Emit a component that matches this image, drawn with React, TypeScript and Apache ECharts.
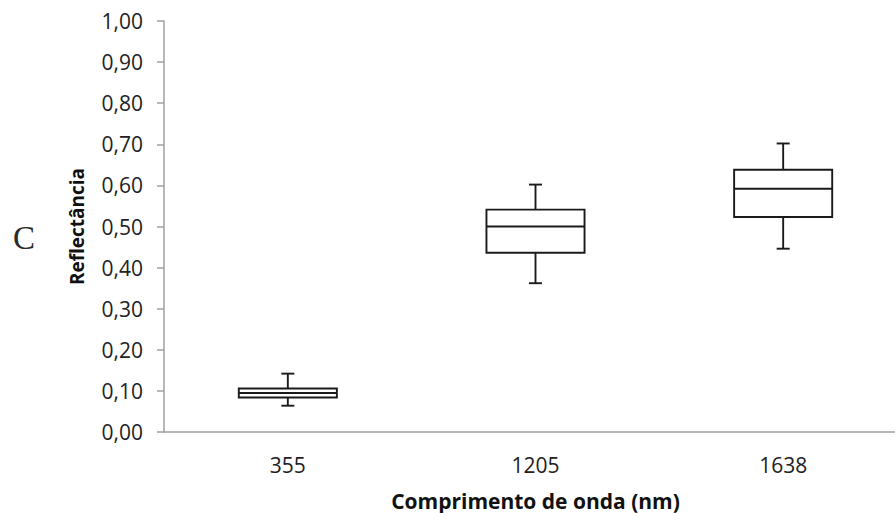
import React, { useEffect, useRef } from "react";
import * as echarts from "echarts";

const categories = ["355", "1205", "1638"];
const mins = [0.064, 0.362, 0.446];
const q1s = [0.084, 0.436, 0.523];
const medians = [0.095, 0.5, 0.592];
const q3s = [0.106, 0.541, 0.638];
const maxs = [0.142, 0.602, 0.702];

export default function App() {
  const ref = useRef<HTMLDivElement>(null);
  useEffect(() => {
    if (!ref.current) return;
    const chart = echarts.init(ref.current, null, { renderer: "svg" });
    const data = categories.map((_, i) => [i, mins[i], q1s[i], medians[i], q3s[i], maxs[i]]);
    const stroke = "#1a1a1a";
    const lw = 1.9;
    chart.setOption({
      animation: false,
      backgroundColor: "#ffffff",
      graphic: [
        {
          type: "text",
          left: 13,
          top: 221,
          style: { text: "C", font: '33px "Liberation Serif"', fill: "#2a2a2a" },
        },
      ],
      grid: { left: 164, top: 21, width: 743, height: 411, outerBoundsMode: "none", containLabel: false },
      xAxis: {
        type: "category",
        data: categories,
        boundaryGap: true,
        name: "Comprimento de onda (nm)",
        nameLocation: "middle",
        nameGap: 58,
        nameTextStyle: { fontFamily: "Open Sans", fontWeight: "bold", fontSize: 21, color: "#111" },
        axisLine: { lineStyle: { color: "#a0a0a0", width: 1.5 } },
        axisTick: { length: 7, lineStyle: { color: "#a0a0a0", width: 1.5 } },
        axisLabel: { margin: 22, fontFamily: "Open Sans", fontSize: 21, color: "#222" },
        splitLine: { show: false },
      },
      yAxis: {
        type: "value",
        min: 0,
        max: 1,
        interval: 0.1,
        name: "Reflectância",
        nameLocation: "middle",
        nameGap: 78,
        nameTextStyle: { fontFamily: "Open Sans", fontWeight: "bold", fontSize: 19, color: "#111" },
        axisLine: { show: true, lineStyle: { color: "#a0a0a0", width: 1.5 } },
        axisTick: { show: true, length: 7, lineStyle: { color: "#a0a0a0", width: 1.5 } },
        axisLabel: {
          margin: 21,
          fontFamily: "Open Sans",
          fontSize: 21,
          color: "#222",
          formatter: (v: number) => v.toFixed(2).replace(".", ","),
        },
        splitLine: { show: false },
      },
      series: [
        {
          type: "custom",
          data,
          encode: { x: 0, y: [1, 2, 3, 4, 5] },
          renderItem: (params: any, api: any) => {
            const idx = api.value(0);
            const pMin = api.coord([idx, api.value(1)]);
            const pQ1 = api.coord([idx, api.value(2)]);
            const pMed = api.coord([idx, api.value(3)]);
            const pQ3 = api.coord([idx, api.value(4)]);
            const pMax = api.coord([idx, api.value(5)]);
            const band = api.size([1, 0])[0];
            const bw = band * 0.396;
            const cap = 13;
            const cx = pMed[0];
            const ls = { stroke, lineWidth: lw, fill: null };
            return {
              type: "group",
              children: [
                { type: "line", shape: { x1: cx, y1: pMax[1], x2: cx, y2: pQ3[1] }, style: ls },
                { type: "line", shape: { x1: cx, y1: pQ1[1], x2: cx, y2: pMin[1] }, style: ls },
                { type: "line", shape: { x1: cx - cap / 2, y1: pMax[1], x2: cx + cap / 2, y2: pMax[1] }, style: ls },
                { type: "line", shape: { x1: cx - cap / 2, y1: pMin[1], x2: cx + cap / 2, y2: pMin[1] }, style: ls },
                {
                  type: "rect",
                  shape: { x: cx - bw / 2, y: pQ3[1], width: bw, height: pQ1[1] - pQ3[1] },
                  style: { stroke, lineWidth: lw, fill: "#ffffff" },
                },
                { type: "line", shape: { x1: cx - bw / 2, y1: pMed[1], x2: cx + bw / 2, y2: pMed[1] }, style: ls },
              ],
            };
          },
        },
      ],
    });
    return () => chart.dispose();
  }, []);
  return (
    <div
      ref={ref}
      style={{ position: "fixed", left: 0, top: 0, width: 895, height: 513, background: "#fff" }}
    />
  );
}
